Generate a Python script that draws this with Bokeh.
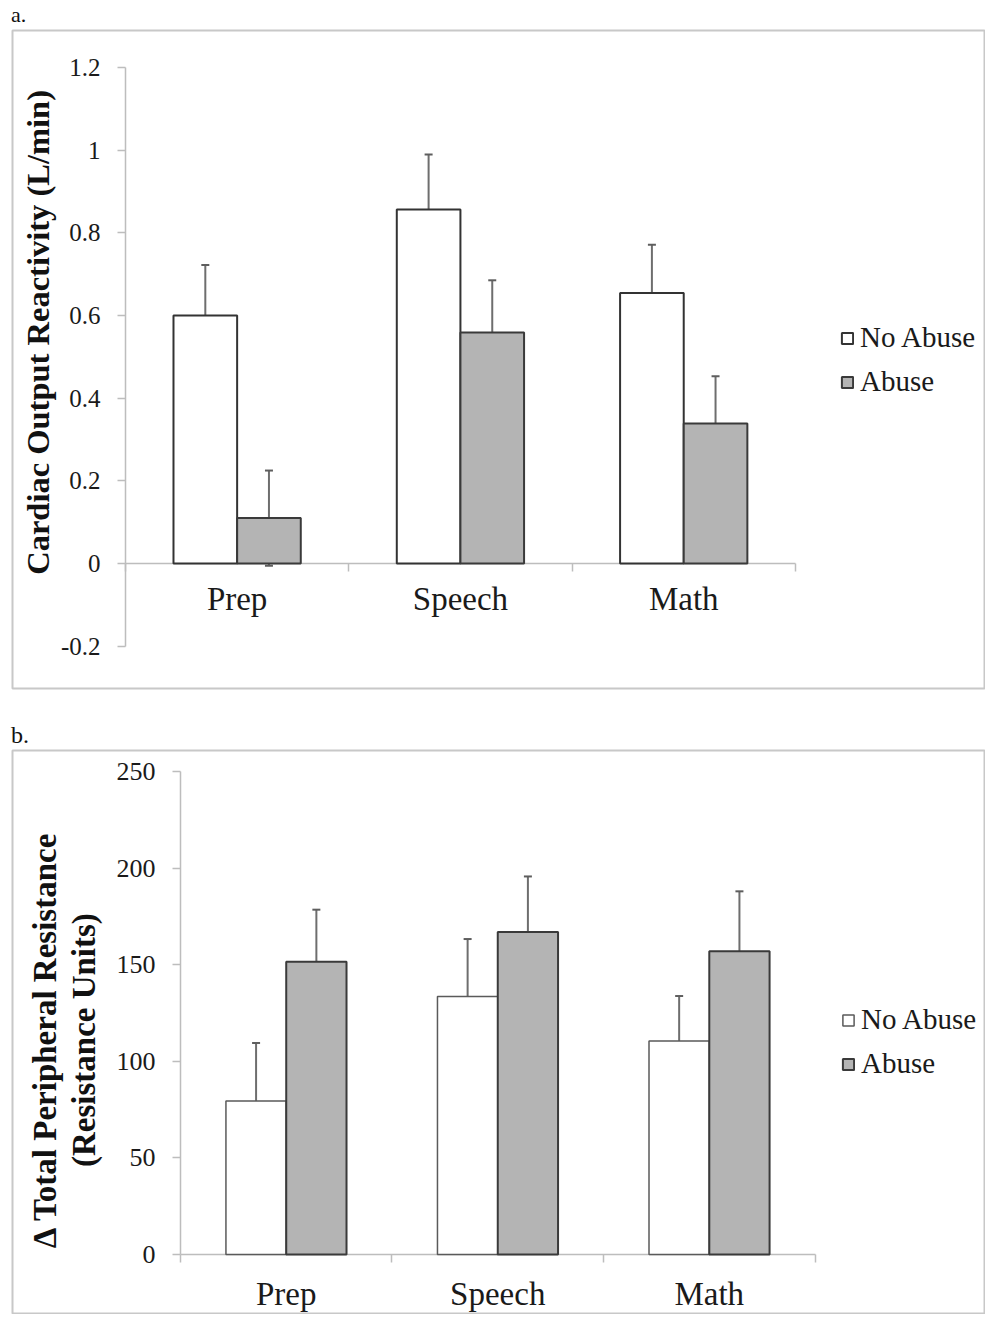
import math
from bokeh.plotting import figure
from bokeh.models import (ColumnDataSource, Range1d, LinearAxis, FixedTicker, Whisker,
                          TeeHead, Legend, LegendItem, Div, Label)
from bokeh.transform import dodge
from bokeh.layouts import column
from bokeh.embed import file_html
from bokeh.resources import INLINE

# ---------------- data ----------------
categories = ["Prep", "Speech", "Math"]
group_labels = ["No Abuse", "Abuse"]

# panel a: cardiac output reactivity (L/min)
co_no_abuse = [0.600, 0.856, 0.654]
co_no_abuse_err = [0.122, 0.133, 0.117]
co_abuse = [0.110, 0.559, 0.339]
co_abuse_err = [0.115, 0.126, 0.114]
co_ticks = [-0.2, 0, 0.2, 0.4, 0.6, 0.8, 1.0, 1.2]
co_tick_labels = ["-0.2", "0", "0.2", "0.4", "0.6", "0.8", "1", "1.2"]
co_ylabel = "Cardiac Output Reactivity (L/min)"

# panel b: change in total peripheral resistance
tpr_no_abuse = [79.5, 133.5, 110.5]
tpr_no_abuse_err = [30.0, 29.8, 23.3]
tpr_abuse = [151.5, 167.0, 157.0]
tpr_abuse_err = [27.0, 28.7, 31.0]
tpr_ticks = [0, 50, 100, 150, 200, 250]
tpr_tick_labels = ["0", "50", "100", "150", "200", "250"]
tpr_ylabel = "\u0394 Total Peripheral Resistance\n(Resistance Units)"

SERIF = "Liberation Serif"
AXIS_GRAY = "#bdbdbd"


def panel(no_abuse, no_abuse_err, abuse, abuse_err, ticks, tick_labels, ylabel,
          x_range, y_range, frame_h, border_top, border_bottom, tick_font, cat_standoff,
          label_font, label_pos, legend_loc, na_line, na_width):
    centers = [i + 0.5 for i in range(len(categories))]
    src = ColumnDataSource(dict(
        x=centers,
        na=no_abuse, ab=abuse,
        na_up=[v + e for v, e in zip(no_abuse, no_abuse_err)],
        na_lo=[v - e for v, e in zip(no_abuse, no_abuse_err)],
        ab_up=[v + e for v, e in zip(abuse, abuse_err)],
        ab_lo=[v - e for v, e in zip(abuse, abuse_err)],
    ))
    p = figure(frame_width=972, frame_height=frame_h, x_range=x_range, y_range=y_range,
               x_axis_type=None, y_axis_type=None, toolbar_location=None,
               output_backend="svg", min_border_left=12, min_border_right=1,
               min_border_top=border_top, min_border_bottom=border_bottom)
    p.outline_line_color = "#c8c8c8"
    p.outline_line_width = 2
    p.background_fill_color = "white"
    p.border_fill_color = "white"

    off = 0.1425
    w = 0.285
    r1 = p.vbar(x=dodge("x", -off), top="na", bottom=0, width=w, source=src,
                fill_color="white", line_color=na_line, line_width=na_width)
    r2 = p.vbar(x=dodge("x", off), top="ab", bottom=0, width=w, source=src,
                fill_color="#b4b4b4", line_color="#3a3a3a", line_width=2)

    for base, up, lo in ((dodge("x", -off), "na_up", "na_lo"), (dodge("x", off), "ab_up", "ab_lo")):
        wh = Whisker(source=src, base=base, upper=up, lower=lo,
                     line_color="#6e6e6e", line_width=2,
                     upper_head=TeeHead(size=8, line_color="#5e5e5e", line_width=2),
                     lower_head=TeeHead(size=8, line_color="#5e5e5e", line_width=2))
        p.add_layout(wh)

    # y axis at x = 0
    yax = LinearAxis(fixed_location=0, ticker=FixedTicker(ticks=ticks),
                     bounds=(ticks[0], ticks[-1]),
                     major_label_overrides={t: l for t, l in zip(ticks, tick_labels)})
    yax.axis_line_color = AXIS_GRAY
    yax.axis_line_width = 1.5
    yax.major_tick_line_color = AXIS_GRAY
    yax.major_tick_line_width = 1.5
    yax.major_tick_out = 8
    yax.major_tick_in = 0
    yax.minor_tick_line_color = None
    yax.major_label_standoff = 17
    yax.major_label_text_font = SERIF
    yax.major_label_text_font_size = tick_font
    yax.major_label_text_color = "#1a1a1a"
    p.add_layout(yax, "left")

    # y axis title, rotated, inside the bordered box
    ylab = Label(x=label_pos[0], y=label_pos[1], x_units="data", y_units="data",
                 text=ylabel, angle=math.pi / 2, text_align="center",
                 text_baseline="middle", text_font=SERIF, text_font_style="bold",
                 text_font_size=label_font, text_color="#111111", text_line_height=1.1)
    p.add_layout(ylab)

    # x axis line with ticks at category boundaries
    bounds_ticks = list(range(len(categories) + 1))
    xax = LinearAxis(fixed_location=0, ticker=FixedTicker(ticks=bounds_ticks),
                     bounds=(0, len(categories)), level="underlay")
    xax.axis_line_color = AXIS_GRAY
    xax.axis_line_width = 1.5
    xax.major_tick_line_color = AXIS_GRAY
    xax.major_tick_line_width = 1.5
    xax.major_tick_out = 8
    xax.major_tick_in = 0
    xax.minor_tick_line_color = None
    xax.major_label_text_color = None
    p.add_layout(xax, "below")

    # category labels at category centres
    cax = LinearAxis(fixed_location=0, ticker=FixedTicker(ticks=centers),
                     major_label_overrides={c: n for c, n in zip(centers, categories)})
    cax.axis_line_color = None
    cax.major_tick_line_color = None
    cax.minor_tick_line_color = None
    cax.major_tick_out = 0
    cax.major_tick_in = 0
    cax.major_label_standoff = cat_standoff
    cax.major_label_text_font = SERIF
    cax.major_label_text_font_size = "33px"
    cax.major_label_text_color = "#1a1a1a"
    p.add_layout(cax, "below")

    legend = Legend(items=[LegendItem(label=group_labels[0], renderers=[r1]),
                           LegendItem(label=group_labels[1], renderers=[r2])],
                    location=legend_loc)
    legend.border_line_color = None
    legend.background_fill_alpha = 0
    legend.padding = 0
    legend.margin = 0
    legend.glyph_width = 14
    legend.glyph_height = 14
    legend.label_standoff = 6
    legend.spacing = 11
    legend.label_height = 32
    legend.label_text_font = SERIF
    legend.label_text_font_size = "29px"
    legend.label_text_color = "#1a1a1a"
    p.add_layout(legend, "center")
    return p


pa = panel(co_no_abuse, co_no_abuse_err, co_abuse, co_abuse_err, co_ticks, co_tick_labels,
           co_ylabel, Range1d(-0.506, 3.847), Range1d(-0.302, 1.289), 658, 2, 20, "25px", 17,
           "32.5px", (-0.390, 0.559), (828, 290), "#333333", 2)

pb = panel(tpr_no_abuse, tpr_no_abuse_err, tpr_abuse, tpr_abuse_err, tpr_ticks, tpr_tick_labels,
           tpr_ylabel, Range1d(-0.794, 3.801), Range1d(-31.06, 260.9), 564, 2, 0, "26px", 22,
           "33px", (-0.548, 111.0), (829, 234), "#5a5a5a", 1.5)

div_a = Div(text='<div style="font-family: \'Liberation Serif\'; font-size: 22px; line-height: 22px; padding-top: 4px; padding-left: 11px; color:#111;">a.</div>',
            width=985, height=28, margin=0)
div_b = Div(text='<div style="font-family: \'Liberation Serif\'; font-size: 24px; line-height: 20px; padding-top: 17px; padding-left: 11px; color:#111;">b.</div>',
            width=985, height=40, margin=0)

layout = column(div_a, pa, div_b, pb, spacing=0)
open("out.html", "w").write(file_html(layout, INLINE))
